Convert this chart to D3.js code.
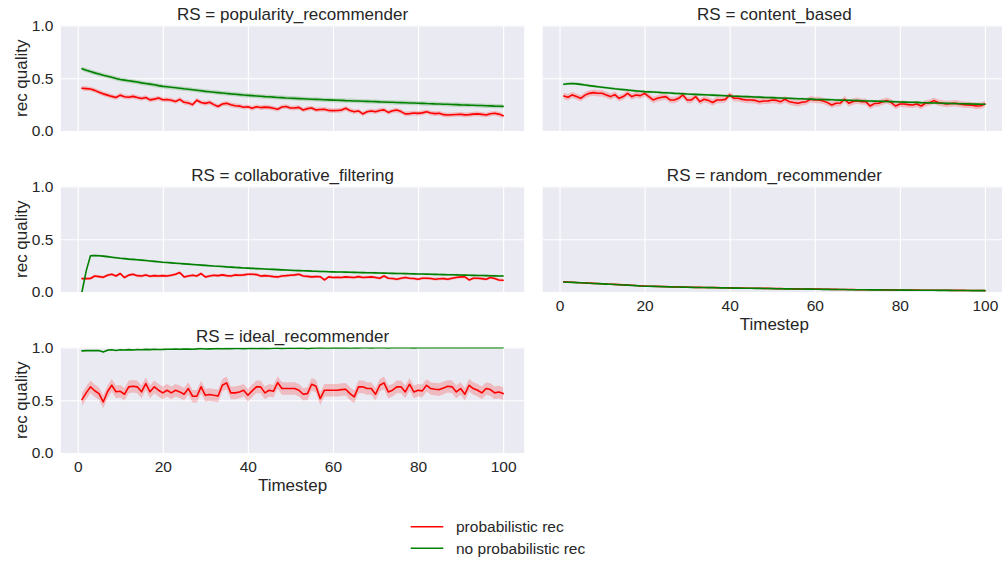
<!DOCTYPE html>
<html>
<head>
<meta charset="utf-8">
<script src="https://cdn.jsdelivr.net/npm/d3@7"></script>
<style>
  html, body { margin: 0; padding: 0; background: #ffffff; }
  svg { display: block; }
  text { font-family: "Liberation Sans", Arial, sans-serif; fill: #262626; }
</style>
</head>
<body>
<svg id="chart" width="1002" height="562"></svg>
<script>
// ---------------- DATA ----------------
const timesteps = d3.range(1, 101);
const panelNames = ["popularity_recommender", "content_based", "collaborative_filtering", "random_recommender", "ideal_recommender"];
const seriesNames = ["probabilistic rec", "no probabilistic rec"];
const xTicks = [0, 20, 40, 60, 80, 100];
const yTicks = [0.0, 0.5, 1.0];
const yTickLabels = ["0.0", "0.5", "1.0"];

const popularityProb = [
  0.405,0.402,0.398,0.385,0.368,0.352,0.340,0.328,0.318,0.340,
  0.325,0.320,0.328,0.318,0.308,0.318,0.295,0.302,0.312,0.296,
  0.298,0.292,0.280,0.300,0.272,0.266,0.250,0.292,0.270,0.262,
  0.272,0.250,0.232,0.256,0.262,0.248,0.240,0.236,0.225,0.230,
  0.215,0.230,0.222,0.226,0.224,0.215,0.206,0.228,0.232,0.218,
  0.218,0.224,0.199,0.212,0.218,0.200,0.204,0.206,0.195,0.193,
  0.194,0.198,0.215,0.195,0.183,0.190,0.162,0.182,0.190,0.183,
  0.195,0.200,0.176,0.192,0.198,0.184,0.162,0.165,0.170,0.167,
  0.172,0.182,0.170,0.165,0.168,0.155,0.152,0.154,0.156,0.158,
  0.153,0.155,0.160,0.162,0.158,0.152,0.163,0.168,0.160,0.145];
const popularityNoProb = [
  0.590,0.576,0.563,0.551,0.540,0.529,0.519,0.509,0.498,0.488,
  0.482,0.476,0.470,0.464,0.456,0.450,0.444,0.438,0.430,0.423,
  0.419,0.414,0.410,0.405,0.400,0.396,0.391,0.386,0.381,0.376,
  0.372,0.368,0.364,0.360,0.356,0.352,0.349,0.345,0.341,0.338,
  0.335,0.332,0.329,0.326,0.324,0.321,0.318,0.316,0.313,0.311,
  0.309,0.307,0.305,0.303,0.301,0.300,0.298,0.296,0.295,0.293,
  0.291,0.290,0.288,0.287,0.285,0.284,0.282,0.281,0.279,0.278,
  0.276,0.275,0.273,0.272,0.270,0.269,0.268,0.266,0.265,0.263,
  0.262,0.260,0.259,0.257,0.256,0.254,0.253,0.251,0.250,0.248,
  0.247,0.245,0.244,0.242,0.241,0.239,0.238,0.236,0.235,0.233];

const contentProb = [
  0.332,0.320,0.342,0.326,0.310,0.340,0.357,0.364,0.358,0.358,
  0.342,0.326,0.345,0.310,0.326,0.357,0.326,0.342,0.335,0.357,
  0.326,0.294,0.310,0.320,0.326,0.294,0.294,0.310,0.342,0.294,
  0.294,0.326,0.278,0.301,0.290,0.270,0.294,0.294,0.300,0.342,
  0.310,0.310,0.300,0.294,0.294,0.290,0.278,0.285,0.285,0.294,
  0.290,0.278,0.301,0.278,0.270,0.263,0.272,0.278,0.301,0.294,
  0.294,0.285,0.269,0.247,0.263,0.265,0.301,0.263,0.280,0.288,
  0.278,0.278,0.237,0.260,0.263,0.278,0.288,0.270,0.237,0.256,
  0.256,0.250,0.247,0.256,0.237,0.263,0.269,0.288,0.270,0.263,
  0.256,0.260,0.263,0.256,0.250,0.247,0.245,0.237,0.240,0.256];
const contentNoProb = [
  0.443,0.448,0.450,0.447,0.442,0.436,0.430,0.425,0.420,0.415,
  0.410,0.405,0.400,0.396,0.392,0.388,0.384,0.380,0.377,0.373,
  0.371,0.369,0.367,0.364,0.362,0.360,0.357,0.355,0.353,0.350,
  0.348,0.347,0.345,0.343,0.341,0.340,0.338,0.336,0.334,0.332,
  0.330,0.329,0.327,0.326,0.324,0.322,0.321,0.319,0.318,0.316,
  0.314,0.313,0.311,0.310,0.308,0.306,0.305,0.304,0.302,0.300,
  0.299,0.298,0.297,0.296,0.294,0.293,0.292,0.291,0.289,0.288,
  0.287,0.285,0.284,0.283,0.282,0.281,0.279,0.278,0.277,0.275,
  0.274,0.273,0.272,0.271,0.269,0.268,0.267,0.266,0.265,0.263,
  0.262,0.261,0.260,0.259,0.258,0.257,0.256,0.255,0.254,0.253];

const collabProb = [
  0.127,0.127,0.128,0.152,0.146,0.140,0.159,0.168,0.152,0.175,
  0.137,0.160,0.168,0.155,0.152,0.162,0.150,0.155,0.152,0.155,
  0.152,0.159,0.168,0.184,0.143,0.152,0.159,0.152,0.175,0.143,
  0.152,0.159,0.155,0.162,0.155,0.152,0.162,0.159,0.162,0.168,
  0.168,0.165,0.152,0.155,0.152,0.146,0.143,0.152,0.155,0.159,
  0.162,0.168,0.152,0.148,0.143,0.146,0.145,0.114,0.143,0.137,
  0.140,0.137,0.143,0.140,0.137,0.146,0.137,0.140,0.143,0.137,
  0.130,0.152,0.130,0.128,0.121,0.130,0.137,0.130,0.128,0.121,
  0.130,0.130,0.128,0.121,0.125,0.127,0.121,0.130,0.137,0.143,
  0.143,0.114,0.130,0.130,0.127,0.121,0.137,0.128,0.114,0.111];
const collabNoProb = [
  0.000,0.200,0.343,0.345,0.343,0.340,0.335,0.330,0.325,0.320,
  0.316,0.312,0.309,0.306,0.302,0.298,0.294,0.290,0.286,0.282,
  0.279,0.276,0.273,0.270,0.267,0.264,0.261,0.258,0.255,0.252,
  0.249,0.246,0.244,0.241,0.238,0.236,0.233,0.231,0.228,0.226,
  0.224,0.222,0.220,0.218,0.216,0.214,0.212,0.210,0.208,0.206,
  0.204,0.203,0.201,0.200,0.198,0.197,0.195,0.194,0.192,0.191,
  0.190,0.189,0.188,0.187,0.186,0.185,0.184,0.183,0.182,0.181,
  0.180,0.179,0.178,0.177,0.176,0.175,0.174,0.173,0.172,0.171,
  0.170,0.169,0.168,0.167,0.166,0.165,0.164,0.163,0.162,0.161,
  0.160,0.159,0.158,0.157,0.156,0.155,0.154,0.153,0.152,0.151];

const randomProb = [
  0.096,0.094,0.092,0.090,0.088,0.085,0.084,0.082,0.080,0.078,
  0.076,0.074,0.072,0.070,0.068,0.066,0.064,0.061,0.059,0.057,
  0.055,0.054,0.053,0.052,0.051,0.050,0.049,0.048,0.047,0.046,
  0.045,0.044,0.044,0.043,0.042,0.042,0.041,0.040,0.040,0.039,
  0.038,0.038,0.037,0.036,0.036,0.035,0.035,0.034,0.034,0.033,
  0.032,0.032,0.031,0.031,0.030,0.030,0.029,0.028,0.028,0.027,
  0.027,0.026,0.026,0.025,0.025,0.024,0.024,0.023,0.023,0.022,
  0.022,0.022,0.021,0.021,0.021,0.020,0.020,0.020,0.019,0.019,
  0.019,0.018,0.018,0.018,0.017,0.017,0.017,0.016,0.016,0.016,
  0.016,0.015,0.015,0.015,0.015,0.014,0.014,0.014,0.014,0.013];
const randomNoProb = [
  0.095,0.093,0.091,0.089,0.087,0.085,0.083,0.081,0.079,0.077,
  0.075,0.073,0.071,0.069,0.067,0.065,0.062,0.060,0.057,0.055,
  0.054,0.053,0.052,0.051,0.050,0.049,0.048,0.047,0.046,0.045,
  0.044,0.043,0.043,0.042,0.041,0.041,0.040,0.039,0.039,0.038,
  0.037,0.037,0.036,0.035,0.035,0.034,0.034,0.033,0.033,0.032,
  0.031,0.031,0.030,0.030,0.029,0.029,0.028,0.027,0.027,0.026,
  0.026,0.025,0.025,0.024,0.024,0.023,0.023,0.022,0.022,0.021,
  0.021,0.021,0.020,0.020,0.020,0.019,0.019,0.019,0.019,0.018,
  0.018,0.018,0.017,0.017,0.017,0.016,0.016,0.016,0.015,0.015,
  0.015,0.015,0.014,0.014,0.014,0.014,0.013,0.013,0.013,0.013];

const idealProb = [
  0.506,0.570,0.627,0.590,0.563,0.484,0.580,0.642,0.580,0.585,
  0.557,0.627,0.633,0.627,0.580,0.658,0.580,0.627,0.595,0.570,
  0.595,0.570,0.595,0.579,0.557,0.611,0.538,0.538,0.627,0.547,
  0.554,0.547,0.541,0.642,0.665,0.570,0.570,0.579,0.595,0.547,
  0.589,0.627,0.627,0.570,0.595,0.585,0.668,0.611,0.611,0.611,
  0.611,0.595,0.557,0.563,0.652,0.633,0.516,0.595,0.595,0.595,
  0.595,0.601,0.604,0.563,0.532,0.627,0.627,0.611,0.611,0.557,
  0.642,0.665,0.579,0.595,0.627,0.627,0.579,0.652,0.579,0.595,
  0.589,0.642,0.611,0.604,0.601,0.617,0.633,0.627,0.579,0.611,
  0.557,0.642,0.611,0.595,0.570,0.611,0.601,0.570,0.579,0.563];
const idealNoProb = [
  0.968,0.970,0.971,0.970,0.972,0.958,0.975,0.978,0.972,0.979,
  0.976,0.980,0.977,0.981,0.979,0.982,0.980,0.983,0.981,0.982,
  0.984,0.983,0.985,0.984,0.986,0.985,0.984,0.987,0.991,0.986,
  0.987,0.988,0.989,0.988,0.990,0.989,0.991,0.990,0.989,0.991,
  0.992,0.991,0.993,0.992,0.990,0.993,0.994,0.992,0.993,0.994,
  0.993,0.995,0.994,0.990,0.994,0.995,0.998,0.996,0.995,0.996,
  0.996,0.997,0.996,0.995,0.997,0.996,0.997,0.998,0.996,0.997,
  0.998,0.997,0.995,0.997,0.998,0.997,0.998,0.997,0.996,0.998,
  0.998,0.997,0.998,0.998,0.997,0.998,0.999,0.998,0.997,0.998,
  0.998,0.999,0.998,0.999,0.998,0.999,0.999,0.998,0.999,0.999];

// confidence-band half widths per panel: [probabilistic, no probabilistic]
const ciProb = [0.022, 0.030, 0.014, 0.004, 0.060];
const ciNoProb = [0.020, 0.012, 0.010, 0.004, 0.004];

// ---------------- LAYOUT ----------------
const colors = ["#ff0000", "#008000"];
const colX = [[60.9, 524.2], [542.7, 1006.0]];
const rowTop = [25.5, 186.5, 347.5];
const panelH = 105.5;
const panelSeries = [
  [popularityProb, popularityNoProb],
  [contentProb, contentNoProb],
  [collabProb, collabNoProb],
  [randomProb, randomNoProb],
  [idealProb, idealNoProb]
];
const panels = panelNames.map((name, i) => ({
  name, col: i % 2, row: Math.floor(i / 2),
  series: panelSeries[i], ci: [ciProb[i], ciNoProb[i]],
  showXTicks: (i === 3 || i === 4),
  showYTicks: (i % 2 === 0)
}));

const svg = d3.select("#chart");
const TICK_FS = 15.5, LABEL_FS = 17;

panels.forEach(p => {
  const [x0, x1] = colX[p.col];
  const top = rowTop[p.row];
  const bottom = top + panelH;
  const x = d3.scaleLinear().domain([-3.95, 104.95]).range([x0, x1]);
  const y = d3.scaleLinear().domain([0, 1]).range([bottom, top]);
  const g = svg.append("g");
  const clipId = "clip" + p.name;
  g.append("clipPath").attr("id", clipId).append("rect")
    .attr("x", x0).attr("y", top).attr("width", x1 - x0).attr("height", panelH);

  g.append("rect").attr("x", x0).attr("y", top).attr("width", x1 - x0).attr("height", panelH)
    .attr("fill", "#eaeaf2");

  // grid via axes
  g.append("g").attr("transform", `translate(0,${bottom})`)
    .call(d3.axisBottom(x).tickValues(xTicks).tickSize(-panelH).tickFormat(""))
    .call(a => a.select(".domain").remove())
    .call(a => a.selectAll("line").attr("stroke", "#ffffff").attr("stroke-width", 1.1));
  g.append("g").attr("transform", `translate(${x0},0)`)
    .call(d3.axisLeft(y).tickValues(yTicks).tickSize(-(x1 - x0)).tickFormat(""))
    .call(a => a.select(".domain").remove())
    .call(a => a.selectAll("line").attr("stroke", "#ffffff").attr("stroke-width", 1.1));

  const plot = g.append("g").attr("clip-path", `url(#${clipId})`);
  p.series.forEach((vals, si) => {
    const pts = timesteps.map((t, k) => ({ t, v: vals[k] }));
    const h = p.ci[si];
    plot.append("path").datum(pts)
      .attr("d", d3.area().x(d => x(d.t)).y0(d => y(d.v - h)).y1(d => y(d.v + h)))
      .attr("fill", colors[si]).attr("fill-opacity", 0.2).attr("stroke", "none");
  });
  p.series.forEach((vals, si) => {
    const pts = timesteps.map((t, k) => ({ t, v: vals[k] }));
    plot.append("path").datum(pts)
      .attr("d", d3.line().x(d => x(d.t)).y(d => y(d.v)))
      .attr("fill", "none").attr("stroke", colors[si]).attr("stroke-width", 1.6)
      .attr("stroke-linejoin", "round").attr("stroke-linecap", "round");
  });

  // title
  g.append("text").attr("x", (x0 + x1) / 2).attr("y", top - 6)
    .attr("text-anchor", "middle").attr("font-size", LABEL_FS)
    .text("RS = " + p.name);

  if (p.showYTicks) {
    const ya = g.append("g").attr("transform", `translate(${x0},0)`)
      .call(d3.axisLeft(y).tickValues(yTicks).tickSize(0).tickPadding(7.5)
        .tickFormat((d, i) => yTickLabels[i]));
    ya.select(".domain").remove();
    ya.selectAll("text").attr("font-size", TICK_FS).attr("fill", "#262626")
      .attr("font-family", "Liberation Sans, Arial, sans-serif");
    g.append("text")
      .attr("transform", `translate(27,${(top + bottom) / 2}) rotate(-90)`)
      .attr("text-anchor", "middle").attr("font-size", LABEL_FS)
      .text("rec quality");
  }
  if (p.showXTicks) {
    const xa = g.append("g").attr("transform", `translate(0,${bottom})`)
      .call(d3.axisBottom(x).tickValues(xTicks).tickSize(0).tickPadding(8));
    xa.select(".domain").remove();
    xa.selectAll("text").attr("font-size", TICK_FS).attr("fill", "#262626")
      .attr("font-family", "Liberation Sans, Arial, sans-serif");
    g.append("text").attr("x", (x0 + Math.min(x1, 1028)) / 2).attr("y", bottom + 38)
      .attr("text-anchor", "middle").attr("font-size", LABEL_FS)
      .text("Timestep");
  }
});

// legend
const legend = svg.append("g");
const legendY = [526.7, 548.3];
seriesNames.forEach((name, i) => {
  legend.append("line").attr("x1", 410.7).attr("x2", 443.3)
    .attr("y1", legendY[i]).attr("y2", legendY[i])
    .attr("stroke", colors[i]).attr("stroke-width", 1.6);
  legend.append("text").attr("x", 456).attr("y", legendY[i] + 5.4)
    .attr("font-size", TICK_FS).text(name);
});
</script>
</body>
</html>
